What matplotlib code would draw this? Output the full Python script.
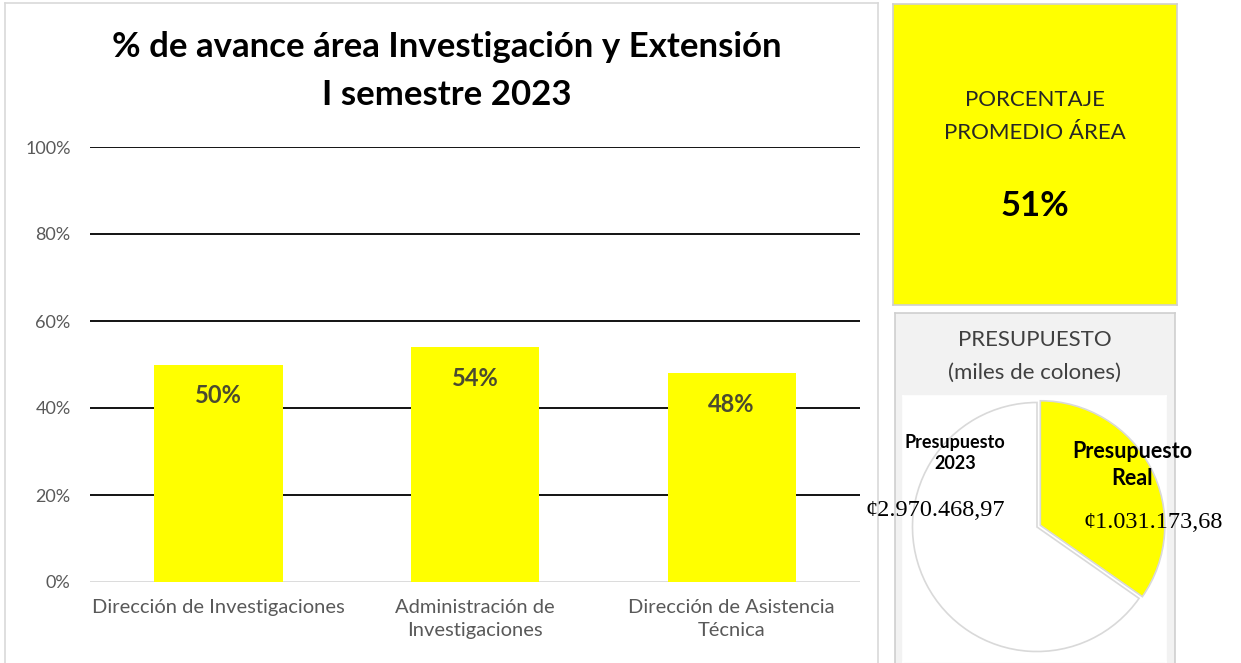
import matplotlib.pyplot as plt

# data
areas = ['Dirección de Investigaciones', 'Administración de\nInvestigaciones',
         'Dirección de Asistencia\nTécnica']
avance = [0.50, 0.54, 0.48]
avance_lbl = ['50%', '54%', '48%']
promedio = '51%'
presupuesto_2023 = 2970468.97
presupuesto_real = 1031173.68
pie_lbl = ['Presupuesto\nReal', 'Presupuesto\n2023']

W, H = 1241, 663
fig = plt.figure(figsize=(W / 100, H / 100), dpi=100)
plt.rcParams['font.family'] = ['Lato', 'DejaVu Sans']


def px(x0, y0, x1, y1):
    return [x0 / W, 1 - y1 / H, (x1 - x0) / W, (y1 - y0) / H]


def panel(x0, y0, x1, y1, fc, ec):
    a = fig.add_axes(px(x0, y0, x1, y1), zorder=0)
    a.set_facecolor(fc)
    a.set_xticks([])
    a.set_yticks([])
    for s in a.spines.values():
        s.set_color(ec)
        s.set_linewidth(1.2)
    return a


# panels
panel(5, 3, 878, 670, 'white', '#d9d9d9')
panel(893, 4, 1177, 305, '#ffff00', '#d0d0d0')
panel(895, 313, 1175, 670, '#f2f2f2', '#cfcfcf')
panel(903, 396, 1166, 662, 'white', 'white')

# bar chart
ax = fig.add_axes(px(90, 147, 860, 582), zorder=1)
ax.set_facecolor('none')
x = range(len(areas))
ax.bar(x, avance, width=0.5, color='#ffff00', zorder=3)
for i, v in enumerate(avance):
    ax.text(i, v - 0.072, avance_lbl[i], ha='center', va='center', fontsize=17,
            fontweight='bold', color='#4a4a30', zorder=4)
ax.set_ylim(0, 1)
ax.set_xlim(-0.5, 2.5)
ax.set_yticks([0, 0.2, 0.4, 0.6, 0.8, 1.0])
ax.set_yticklabels(['0%', '20%', '40%', '60%', '80%', '100%'], fontsize=13, color='#595959')
ax.set_xticks(list(x))
ax.set_xticklabels(areas, fontsize=14.5, color='#595959', linespacing=1.45)
ax.tick_params(axis='x', length=0, pad=12)
ax.tick_params(axis='y', length=0, pad=14)
for y in [0.2, 0.4, 0.6, 0.8, 1.0]:
    ax.axhline(y, color='black', lw=1.3, zorder=1)
ax.axhline(0, color='#d9d9d9', lw=1.3, zorder=1)
for s in ax.spines.values():
    s.set_visible(False)

fig.text(447 / W, 1 - 47 / H, '% de avance área Investigación y Extensión', ha='center',
         va='center', fontsize=25, fontweight='bold', color='black')
fig.text(447 / W, 1 - 95 / H, 'I semestre 2023', ha='center', va='center',
         fontsize=25, fontweight='bold', color='black')

# promedio box
fig.text(1035 / W, 1 - 100 / H, 'PORCENTAJE', ha='center', va='center', fontsize=16, color='#262626')
fig.text(1035 / W, 1 - 133 / H, 'PROMEDIO ÁREA', ha='center', va='center', fontsize=16, color='#262626')
fig.text(1035 / W, 1 - 206 / H, promedio, ha='center', va='center', fontsize=25,
         fontweight='bold', color='black')

# presupuesto
fig.text(1035 / W, 1 - 340 / H, 'PRESUPUESTO', ha='center', va='center', fontsize=16, color='#404040')
fig.text(1035 / W, 1 - 373 / H, '(miles de colones)', ha='center', va='center', fontsize=16, color='#404040')

pax = fig.add_axes(px(910, 400, 1164, 654), zorder=2)
pax.pie([presupuesto_real, presupuesto_2023 - presupuesto_real], colors=['#ffff00', 'white'],
        startangle=90, counterclock=False, explode=[0.03, 0],
        wedgeprops=dict(edgecolor='#d9d9d9', linewidth=1.2))
pax.set_xlim(-1.02, 1.02)
pax.set_ylim(-1.02, 1.02)

fig.text(955 / W, 1 - 453 / H, pie_lbl[1], ha='center', va='center', fontsize=13,
         fontweight='bold', color='black', zorder=5, linespacing=1.35)
fig.text(1132 / W, 1 - 465 / H, pie_lbl[0], ha='center', va='center', fontsize=15.5,
         fontweight='bold', color='black', zorder=5, linespacing=1.35)
fig.text(935 / W, 1 - 510 / H, '¢2.970.468,97', ha='center', va='center', fontsize=17.5,
         family='Liberation Serif', color='black', zorder=5)
fig.text(1153 / W, 1 - 523 / H, '¢1.031.173,68', ha='center', va='center', fontsize=17.5,
         family='Liberation Serif', color='black', zorder=5)

fig.savefig('out.png', dpi=100)
